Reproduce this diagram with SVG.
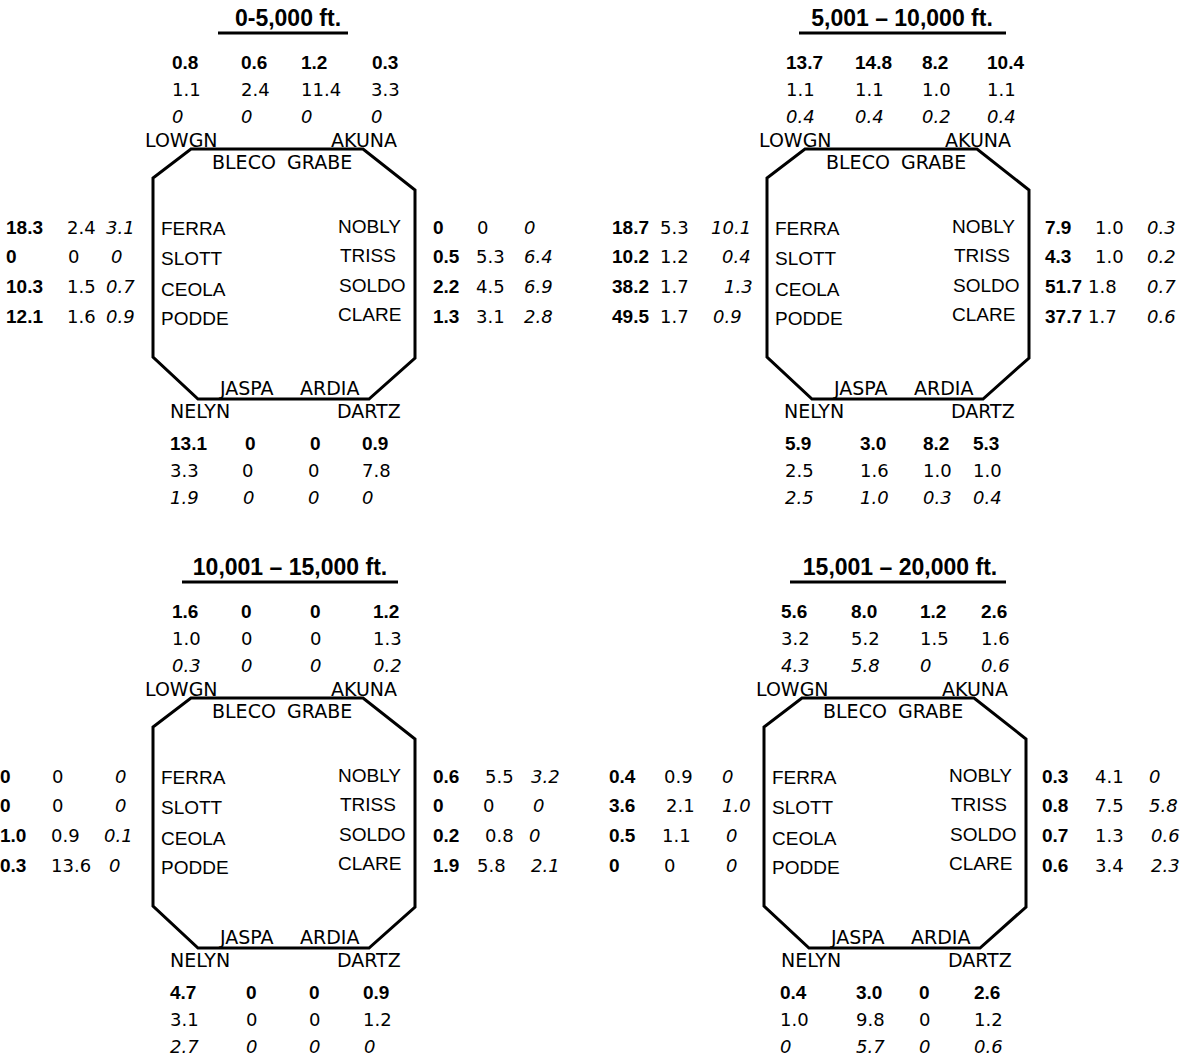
<svg xmlns="http://www.w3.org/2000/svg" xmlns:xlink="http://www.w3.org/1999/xlink" width="1183" height="1057" viewBox="0 0 1183 1057">
<style>
.ttl{font-family:"Liberation Sans",Arial,sans-serif;font-weight:bold;font-size:23px;fill:#000;text-anchor:middle}
.b{font-family:"Liberation Sans",Arial,sans-serif;font-weight:bold;font-size:19px;fill:#000}
.r{font-family:"DejaVu Sans",Verdana,sans-serif;font-size:18px;fill:#000}
.i{font-family:"DejaVu Sans",Verdana,sans-serif;font-style:italic;font-size:18px;fill:#000}
.lv{font-family:"DejaVu Sans",Verdana,sans-serif;font-size:19px;fill:#000}
.lc{font-family:"Liberation Sans",Arial,sans-serif;font-size:19px;fill:#000}
.oct{fill:none;stroke:#000;stroke-width:3;stroke-linejoin:miter}
.ul{stroke:#000;stroke-width:3}
</style>
<defs>
<g id="octagon">
<polygon class="oct" points="191,149 363,149 415,190 415,358 369,399 198,399 153,357 153,178"/>
<text class="lv" x="145" y="147">LOWGN</text>
<text class="lv" x="331" y="147">AKUNA</text>
<text class="lv" x="212" y="169">BLECO</text>
<text class="lv" x="287" y="169">GRABE</text>
<text class="lc" x="161" y="235">FERRA</text>
<text class="lc" x="161" y="265">SLOTT</text>
<text class="lc" x="161" y="296">CEOLA</text>
<text class="lc" x="161" y="325">PODDE</text>
<text class="lc" x="338" y="233">NOBLY</text>
<text class="lc" x="340" y="262">TRISS</text>
<text class="lc" x="339" y="292">SOLDO</text>
<text class="lc" x="338" y="321">CLARE</text>
<text class="lv" x="220" y="395">JASPA</text>
<text class="lv" x="300" y="395">ARDIA</text>
<text class="lv" x="170" y="418">NELYN</text>
<text class="lv" x="337" y="418">DARTZ</text>
</g>
</defs>

<g id="panel-0-5000">
<text class="ttl" x="288" y="26">0-5,000 ft.</text>
<line class="ul" x1="218" y1="33" x2="348" y2="33"/>
<use xlink:href="#octagon" href="#octagon"/>
<text class="b" x="172" y="69">0.8</text><text class="b" x="241" y="69">0.6</text><text class="b" x="301" y="69">1.2</text><text class="b" x="372" y="69">0.3</text>
<text class="r" x="172" y="96">1.1</text><text class="r" x="241" y="96">2.4</text><text class="r" x="301" y="96">11.4</text><text class="r" x="371" y="96">3.3</text>
<text class="i" x="172" y="123">0</text><text class="i" x="241" y="123">0</text><text class="i" x="301" y="123">0</text><text class="i" x="371" y="123">0</text>
<text class="b" x="6" y="234">18.3</text><text class="r" x="67" y="234">2.4</text><text class="i" x="106" y="234">3.1</text>
<text class="b" x="6" y="263">0</text><text class="r" x="68" y="263">0</text><text class="i" x="111" y="263">0</text>
<text class="b" x="6" y="293">10.3</text><text class="r" x="67" y="293">1.5</text><text class="i" x="106" y="293">0.7</text>
<text class="b" x="6" y="323">12.1</text><text class="r" x="67" y="323">1.6</text><text class="i" x="106" y="323">0.9</text>
<text class="b" x="433" y="234">0</text><text class="r" x="477" y="234">0</text><text class="i" x="524" y="234">0</text>
<text class="b" x="433" y="263">0.5</text><text class="r" x="476" y="263">5.3</text><text class="i" x="524" y="263">6.4</text>
<text class="b" x="433" y="293">2.2</text><text class="r" x="476" y="293">4.5</text><text class="i" x="524" y="293">6.9</text>
<text class="b" x="433" y="323">1.3</text><text class="r" x="476" y="323">3.1</text><text class="i" x="524" y="323">2.8</text>
<text class="b" x="170" y="450">13.1</text><text class="b" x="245" y="450">0</text><text class="b" x="310" y="450">0</text><text class="b" x="362" y="450">0.9</text>
<text class="r" x="170" y="477">3.3</text><text class="r" x="242" y="477">0</text><text class="r" x="308" y="477">0</text><text class="r" x="362" y="477">7.8</text>
<text class="i" x="170" y="504">1.9</text><text class="i" x="243" y="504">0</text><text class="i" x="308" y="504">0</text><text class="i" x="362" y="504">0</text>
</g>

<g id="panel-5001-10000" transform="translate(614,0)">
<text class="ttl" x="288" y="26">5,001 – 10,000 ft.</text>
<line class="ul" x1="185" y1="33" x2="392" y2="33"/>
<use xlink:href="#octagon" href="#octagon"/>
<text class="b" x="172" y="69">13.7</text><text class="b" x="241" y="69">14.8</text><text class="b" x="308" y="69">8.2</text><text class="b" x="373" y="69">10.4</text>
<text class="r" x="172" y="96">1.1</text><text class="r" x="241" y="96">1.1</text><text class="r" x="308" y="96">1.0</text><text class="r" x="373" y="96">1.1</text>
<text class="i" x="172" y="123">0.4</text><text class="i" x="241" y="123">0.4</text><text class="i" x="308" y="123">0.2</text><text class="i" x="373" y="123">0.4</text>
<text class="b" x="-2" y="234">18.7</text><text class="r" x="46" y="234">5.3</text><text class="i" x="97" y="234">10.1</text>
<text class="b" x="-2" y="263">10.2</text><text class="r" x="46" y="263">1.2</text><text class="i" x="108" y="263">0.4</text>
<text class="b" x="-2" y="293">38.2</text><text class="r" x="46" y="293">1.7</text><text class="i" x="110" y="293">1.3</text>
<text class="b" x="-2" y="323">49.5</text><text class="r" x="46" y="323">1.7</text><text class="i" x="99" y="323">0.9</text>
<text class="b" x="431" y="234">7.9</text><text class="r" x="481" y="234">1.0</text><text class="i" x="533" y="234">0.3</text>
<text class="b" x="431" y="263">4.3</text><text class="r" x="481" y="263">1.0</text><text class="i" x="533" y="263">0.2</text>
<text class="b" x="431" y="293">51.7</text><text class="r" x="474" y="293">1.8</text><text class="i" x="533" y="293">0.7</text>
<text class="b" x="431" y="323">37.7</text><text class="r" x="474" y="323">1.7</text><text class="i" x="533" y="323">0.6</text>
<text class="b" x="171" y="450">5.9</text><text class="b" x="246" y="450">3.0</text><text class="b" x="309" y="450">8.2</text><text class="b" x="359" y="450">5.3</text>
<text class="r" x="171" y="477">2.5</text><text class="r" x="246" y="477">1.6</text><text class="r" x="309" y="477">1.0</text><text class="r" x="359" y="477">1.0</text>
<text class="i" x="171" y="504">2.5</text><text class="i" x="246" y="504">1.0</text><text class="i" x="309" y="504">0.3</text><text class="i" x="359" y="504">0.4</text>
</g>

<g id="panel-10001-15000" transform="translate(0,549)">
<text class="ttl" x="290" y="26">10,001 – 15,000 ft.</text>
<line class="ul" x1="182" y1="33" x2="398" y2="33"/>
<use xlink:href="#octagon" href="#octagon"/>
<text class="b" x="172" y="69">1.6</text><text class="b" x="241" y="69">0</text><text class="b" x="310" y="69">0</text><text class="b" x="373" y="69">1.2</text>
<text class="r" x="172" y="96">1.0</text><text class="r" x="241" y="96">0</text><text class="r" x="310" y="96">0</text><text class="r" x="373" y="96">1.3</text>
<text class="i" x="172" y="123">0.3</text><text class="i" x="241" y="123">0</text><text class="i" x="310" y="123">0</text><text class="i" x="373" y="123">0.2</text>
<text class="b" x="0" y="234">0</text><text class="r" x="52" y="234">0</text><text class="i" x="115" y="234">0</text>
<text class="b" x="0" y="263">0</text><text class="r" x="52" y="263">0</text><text class="i" x="115" y="263">0</text>
<text class="b" x="0" y="293">1.0</text><text class="r" x="51" y="293">0.9</text><text class="i" x="104" y="293">0.1</text>
<text class="b" x="0" y="323">0.3</text><text class="r" x="51" y="323">13.6</text><text class="i" x="109" y="323">0</text>
<text class="b" x="433" y="234">0.6</text><text class="r" x="485" y="234">5.5</text><text class="i" x="531" y="234">3.2</text>
<text class="b" x="433" y="263">0</text><text class="r" x="483" y="263">0</text><text class="i" x="533" y="263">0</text>
<text class="b" x="433" y="293">0.2</text><text class="r" x="485" y="293">0.8</text><text class="i" x="529" y="293">0</text>
<text class="b" x="433" y="323">1.9</text><text class="r" x="477" y="323">5.8</text><text class="i" x="531" y="323">2.1</text>
<text class="b" x="170" y="450">4.7</text><text class="b" x="246" y="450">0</text><text class="b" x="309" y="450">0</text><text class="b" x="363" y="450">0.9</text>
<text class="r" x="170" y="477">3.1</text><text class="r" x="246" y="477">0</text><text class="r" x="309" y="477">0</text><text class="r" x="363" y="477">1.2</text>
<text class="i" x="170" y="504">2.7</text><text class="i" x="246" y="504">0</text><text class="i" x="309" y="504">0</text><text class="i" x="364" y="504">0</text>
</g>

<g id="panel-15001-20000" transform="translate(611,549)">
<text class="ttl" x="289" y="26">15,001 – 20,000 ft.</text>
<line class="ul" x1="179" y1="33" x2="395" y2="33"/>
<use xlink:href="#octagon" href="#octagon"/>
<text class="b" x="170" y="69">5.6</text><text class="b" x="240" y="69">8.0</text><text class="b" x="309" y="69">1.2</text><text class="b" x="370" y="69">2.6</text>
<text class="r" x="170" y="96">3.2</text><text class="r" x="240" y="96">5.2</text><text class="r" x="309" y="96">1.5</text><text class="r" x="370" y="96">1.6</text>
<text class="i" x="170" y="123">4.3</text><text class="i" x="240" y="123">5.8</text><text class="i" x="309" y="123">0</text><text class="i" x="370" y="123">0.6</text>
<text class="b" x="-2" y="234">0.4</text><text class="r" x="53" y="234">0.9</text><text class="i" x="111" y="234">0</text>
<text class="b" x="-2" y="263">3.6</text><text class="r" x="55" y="263">2.1</text><text class="i" x="111" y="263">1.0</text>
<text class="b" x="-2" y="293">0.5</text><text class="r" x="51" y="293">1.1</text><text class="i" x="115" y="293">0</text>
<text class="b" x="-2" y="323">0</text><text class="r" x="53" y="323">0</text><text class="i" x="115" y="323">0</text>
<text class="b" x="431" y="234">0.3</text><text class="r" x="484" y="234">4.1</text><text class="i" x="538" y="234">0</text>
<text class="b" x="431" y="263">0.8</text><text class="r" x="484" y="263">7.5</text><text class="i" x="538" y="263">5.8</text>
<text class="b" x="431" y="293">0.7</text><text class="r" x="484" y="293">1.3</text><text class="i" x="540" y="293">0.6</text>
<text class="b" x="431" y="323">0.6</text><text class="r" x="484" y="323">3.4</text><text class="i" x="540" y="323">2.3</text>
<text class="b" x="169" y="450">0.4</text><text class="b" x="245" y="450">3.0</text><text class="b" x="308" y="450">0</text><text class="b" x="363" y="450">2.6</text>
<text class="r" x="169" y="477">1.0</text><text class="r" x="245" y="477">9.8</text><text class="r" x="308" y="477">0</text><text class="r" x="363" y="477">1.2</text>
<text class="i" x="169" y="504">0</text><text class="i" x="245" y="504">5.7</text><text class="i" x="308" y="504">0</text><text class="i" x="363" y="504">0.6</text>
</g>
<g id="connectors"/>
</svg>
